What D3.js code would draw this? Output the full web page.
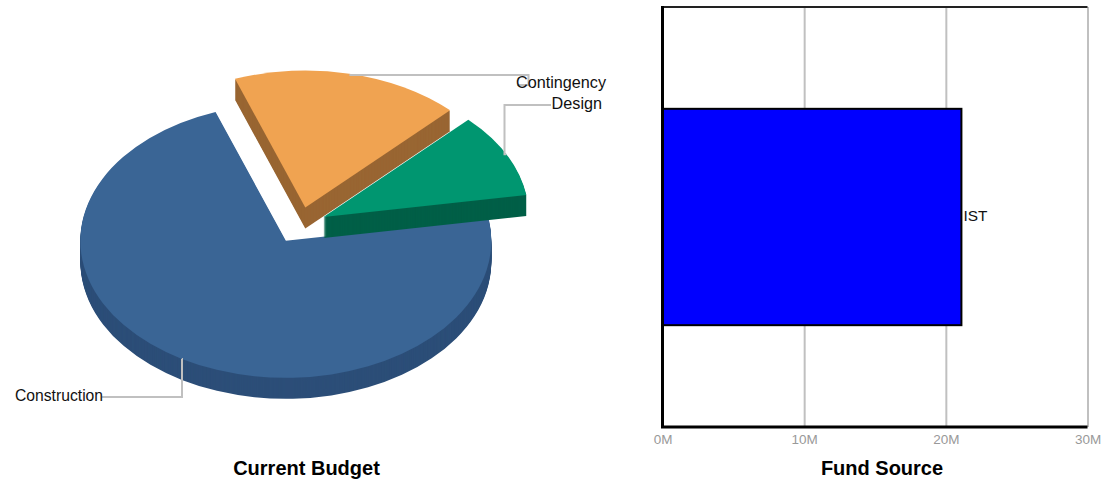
<!DOCTYPE html>
<html>
<head>
<meta charset="utf-8">
<script src="https://cdn.jsdelivr.net/npm/d3@7"></script>
<style>
  html, body { margin: 0; padding: 0; background: #fff; }
  svg { display: block; }
  text { font-family: "Liberation Sans", Arial, sans-serif; }
</style>
</head>
<body>
<svg id="chart" width="1110" height="481"></svg>
<script>
// pie data (share of the budget in %)
const budgetNames = ["Contingency", "Design", "Construction"];
const budgetValues = [18, 10, 72];

// bar data
const fundNames = ["IST"];
const fundValues = [21.1];
const fundTicks = [0, 10, 20, 30];

const topColors = ["#f0a351", "#009670", "#3a6595"];
const sideColors = ["#996633", "#005f47", "#2c4e78"];

const svg = d3.select("#chart");

// ---- pie ----
const pieX = 299.5;
const pieY = 225.2;
const radius = 205.5;
const tilt = 0.667;
const depth = 21;
const explode = 27;
const startDeg = -20;

const pie = d3.pie().sort(null)
    .startAngle(startDeg * Math.PI / 180)
    .endAngle((startDeg + 360) * Math.PI / 180);
const arc = d3.arc().innerRadius(0).outerRadius(radius);

const slices = pie(budgetValues).map((d, i) => {
    const mid = (d.startAngle + d.endAngle) / 2;
    const cx = pieX + explode * Math.sin(mid);
    const cy = pieY - explode * Math.cos(mid) * tilt;
    return {
        ...d,
        name: budgetNames[i],
        top: topColors[i],
        side: sideColors[i],
        cx, cy,
        // point on the rim where the leader line starts
        rimX: cx + radius * Math.sin(mid),
        rimY: cy - radius * Math.cos(mid) * tilt
    };
});

// big slice goes first so the small ones sit on top of it
const drawOrder = [slices[2], slices[0], slices[1]];

const pieG = svg.append("g");
drawOrder.forEach(s => {
    const g = pieG.append("g");
    // side wall = the same slice repeated downwards
    g.selectAll("path.side")
        .data(d3.range(depth, 0, -1))
        .enter()
        .append("path")
        .attr("class", "side")
        .attr("transform", d => `translate(${s.cx}, ${s.cy + d}) scale(1, ${tilt})`)
        .attr("d", arc(s))
        .attr("fill", s.side);
    g.append("path")
        .attr("transform", `translate(${s.cx}, ${s.cy}) scale(1, ${tilt})`)
        .attr("d", arc(s))
        .attr("fill", s.top);
});

// leader lines + labels
const labelSetup = {
    Contingency: { x: 606, y: 88, size: 16.2, anchor: "end", bend: (s) => [[s.rimX, 75], [528.5, 75], [528.5, 85], [517, 85]] },
    Design: { x: 602, y: 109, size: 16.2, anchor: "end", bend: (s) => [[s.rimX, s.rimY], [504.5, s.rimY], [504.5, 105], [551, 105]] },
    Construction: { x: 15, y: 401, size: 15.7, anchor: "start", bend: (s) => [[s.rimX, s.rimY], [182, s.rimY], [182, 397], [102, 397]] }
};

slices.forEach(s => {
    const cfg = labelSetup[s.name];
    pieG.append("path")
        .attr("d", d3.line()(cfg.bend(s)))
        .attr("fill", "none")
        .attr("stroke", "#c0c0c0")
        .attr("stroke-width", 2);
    pieG.append("text")
        .attr("x", cfg.x)
        .attr("y", cfg.y)
        .attr("text-anchor", cfg.anchor)
        .attr("font-size", cfg.size)
        .attr("fill", "#111")
        .text(s.name);
});

svg.append("text")
    .attr("x", 306.5)
    .attr("y", 475)
    .attr("text-anchor", "middle")
    .attr("font-size", 20)
    .attr("font-weight", "bold")
    .attr("fill", "#000")
    .text("Current Budget");

// ---- bar ----
const plot = { left: 662.5, right: 1087.5, top: 7, bottom: 427 };

const x = d3.scaleLinear().domain([0, 30]).range([plot.left, plot.right]);
const y = d3.scaleBand().domain(fundNames).range([plot.top, plot.bottom])
    .paddingInner(0.32).paddingOuter(0.32);

const xAxis = d3.axisBottom(x)
    .tickValues(fundTicks)
    .tickFormat(d => d + "M")
    .tickSize(-(plot.bottom - plot.top))
    .tickPadding(7);

const axisG = svg.append("g")
    .attr("transform", `translate(0, ${plot.bottom})`)
    .call(xAxis);
axisG.select(".domain").remove();
axisG.selectAll("line").attr("stroke", "#c0c0c0").attr("stroke-width", 2);
axisG.selectAll("text")
    .attr("font-size", 13.5)
    .attr("font-family", '"Liberation Sans", Arial, sans-serif')
    .attr("fill", "#999");

// top edge is thinner than the left + bottom axes
svg.append("line")
    .attr("x1", plot.left).attr("x2", plot.right)
    .attr("y1", plot.top).attr("y2", plot.top)
    .attr("stroke", "#222").attr("stroke-width", 2);

svg.selectAll("rect.bar")
    .data(fundValues)
    .enter()
    .append("rect")
    .attr("class", "bar")
    .attr("x", x(0))
    .attr("y", (d, i) => y(fundNames[i]))
    .attr("width", d => x(d) - x(0))
    .attr("height", y.bandwidth())
    .attr("fill", "#0000ff")
    .attr("stroke", "#000")
    .attr("stroke-width", 2);

svg.selectAll("text.barLabel")
    .data(fundValues)
    .enter()
    .append("text")
    .attr("class", "barLabel")
    .attr("x", d => x(d) + 2)
    .attr("y", (d, i) => y(fundNames[i]) + y.bandwidth() / 2 + 4)
    .attr("font-size", 15.4)
    .attr("fill", "#111")
    .text((d, i) => fundNames[i]);

svg.append("path")
    .attr("d", d3.line()([[plot.left, plot.top - 1], [plot.left, plot.bottom], [plot.right, plot.bottom]]))
    .attr("fill", "none")
    .attr("stroke", "#000")
    .attr("stroke-width", 3);

svg.append("text")
    .attr("x", 882)
    .attr("y", 475)
    .attr("text-anchor", "middle")
    .attr("font-size", 20)
    .attr("font-weight", "bold")
    .attr("fill", "#000")
    .text("Fund Source");
</script>
</body>
</html>
